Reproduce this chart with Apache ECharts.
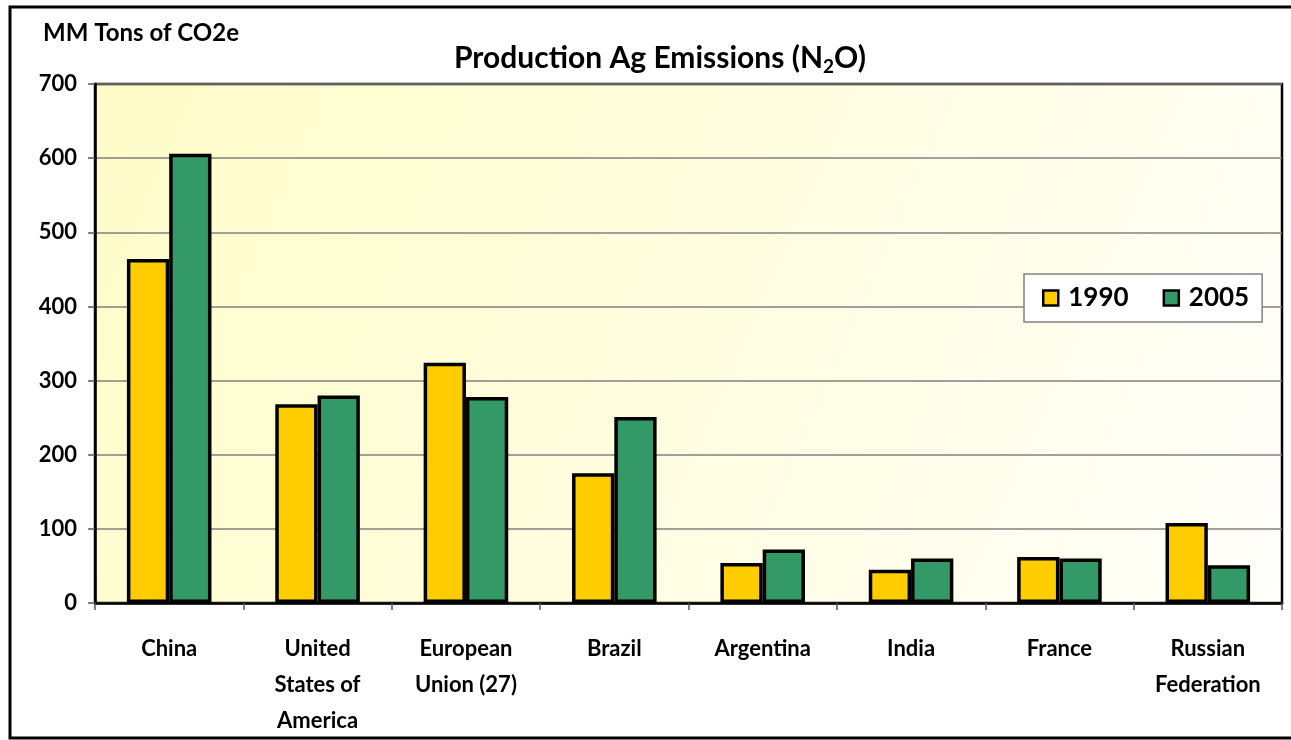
<!DOCTYPE html>
<html>
<head>
<meta charset="utf-8">
<script src="https://cdn.jsdelivr.net/npm/echarts@6/dist/echarts.min.js"></script>
<style>
  html, body { margin: 0; padding: 0; background: #ffffff; }
  #chart { width: 1291px; height: 740px; }
</style>
</head>
<body>
<div id="chart"></div>
<script>
// Production agricultural N2O emissions, million tons CO2e
const countries = ['China', 'United\nStates of\nAmerica', 'European\nUnion (27)', 'Brazil', 'Argentina', 'India', 'France', 'Russian\nFederation'];
const values1990 = [464, 268, 324, 175, 54, 45, 62, 108];
const values2005 = [606, 280, 278, 251, 72, 60, 60, 51];
const yTicks = [0, 100, 200, 300, 400, 500, 600, 700];

const FONT = 'Lato, "Open Sans", sans-serif';
const chart = echarts.init(document.getElementById('chart'));

const barStyle = (color) => ({ color: color, borderColor: '#000', borderWidth: 3.5 });

chart.setOption({
  animation: false,
  backgroundColor: '#ffffff',
  title: {
    text: 'Production Ag Emissions (N{sub|2}O)',
    left: 449,
    top: 35,
    textStyle: {
      fontFamily: FONT, fontWeight: 'bold', fontSize: 30, color: '#000',
      lineHeight: 36,
      rich: {
        sub: { fontFamily: FONT, fontWeight: 'bold', fontSize: 19, color: '#000', lineHeight: 36, verticalAlign: 'bottom', padding: [10, 0, 0, 0] }
      }
    }
  },
  graphic: [
    { type: 'rect', shape: { x: 10, y: 7, width: 1300, height: 731 }, style: { fill: 'none', stroke: '#000', lineWidth: 3 }, silent: true },
    { type: 'text', left: 43, top: 21, style: { text: 'MM Tons of CO2e', font: 'bold 24px ' + FONT, fill: '#000' } }
  ],
  legend: {
    data: ['1990', '2005'],
    left: 1024,
    top: 274,
    padding: [11, 13, 11, 18],
    itemGap: 34,
    itemWidth: 15,
    itemHeight: 15,
    icon: 'rect',
    backgroundColor: '#ffffff',
    borderColor: '#808080',
    borderWidth: 1.5,
    itemStyle: { borderColor: '#000', borderWidth: 2.5 },
    textStyle: { fontFamily: FONT, fontWeight: 'bold', fontSize: 26, color: '#000', padding: [2, 0, 0, 5] }
  },
  grid: {
    left: 95, right: 9, top: 84, bottom: 137,
    show: true,
    borderColor: '#000',
    borderWidth: 2.5,
    backgroundColor: new echarts.graphic.LinearGradient(0, 0, 1, 1, [
      { offset: 0, color: '#fffcc9' },
      { offset: 0.5, color: '#fffddf' },
      { offset: 1, color: '#fffffb' }
    ])
  },
  xAxis: {
    type: 'category',
    data: countries,
    axisLine: { lineStyle: { color: '#000', width: 2.5 } },
    axisTick: { show: true, length: 7, lineStyle: { color: '#555', width: 1.5 } },
    axisLabel: {
      interval: 0, margin: 28, lineHeight: 36,
      fontFamily: FONT, fontWeight: 'bold', fontSize: 22, color: '#000'
    }
  },
  yAxis: {
    type: 'value',
    min: yTicks[0],
    max: yTicks[yTicks.length - 1],
    interval: 100,
    axisLine: { show: true, lineStyle: { color: '#000', width: 2.5 } },
    axisTick: { show: true, length: 7, lineStyle: { color: '#555', width: 1.5 } },
    axisLabel: {
      margin: 18,
      fontFamily: FONT, fontWeight: 'bold', fontSize: 22, color: '#000',
      formatter: (v) => yTicks.includes(v) ? String(v) : ''
    },
    splitLine: { show: true, lineStyle: { color: '#808080', width: 1.5 } }
  },
  series: [
    { name: '1990', type: 'bar', data: values1990, barGap: '0%', barCategoryGap: '43%', itemStyle: barStyle('#ffcc00') },
    { name: '2005', type: 'bar', data: values2005, barGap: '0%', barCategoryGap: '43%', itemStyle: barStyle('#339966') }
  ]
});
</script>
</body>
</html>
